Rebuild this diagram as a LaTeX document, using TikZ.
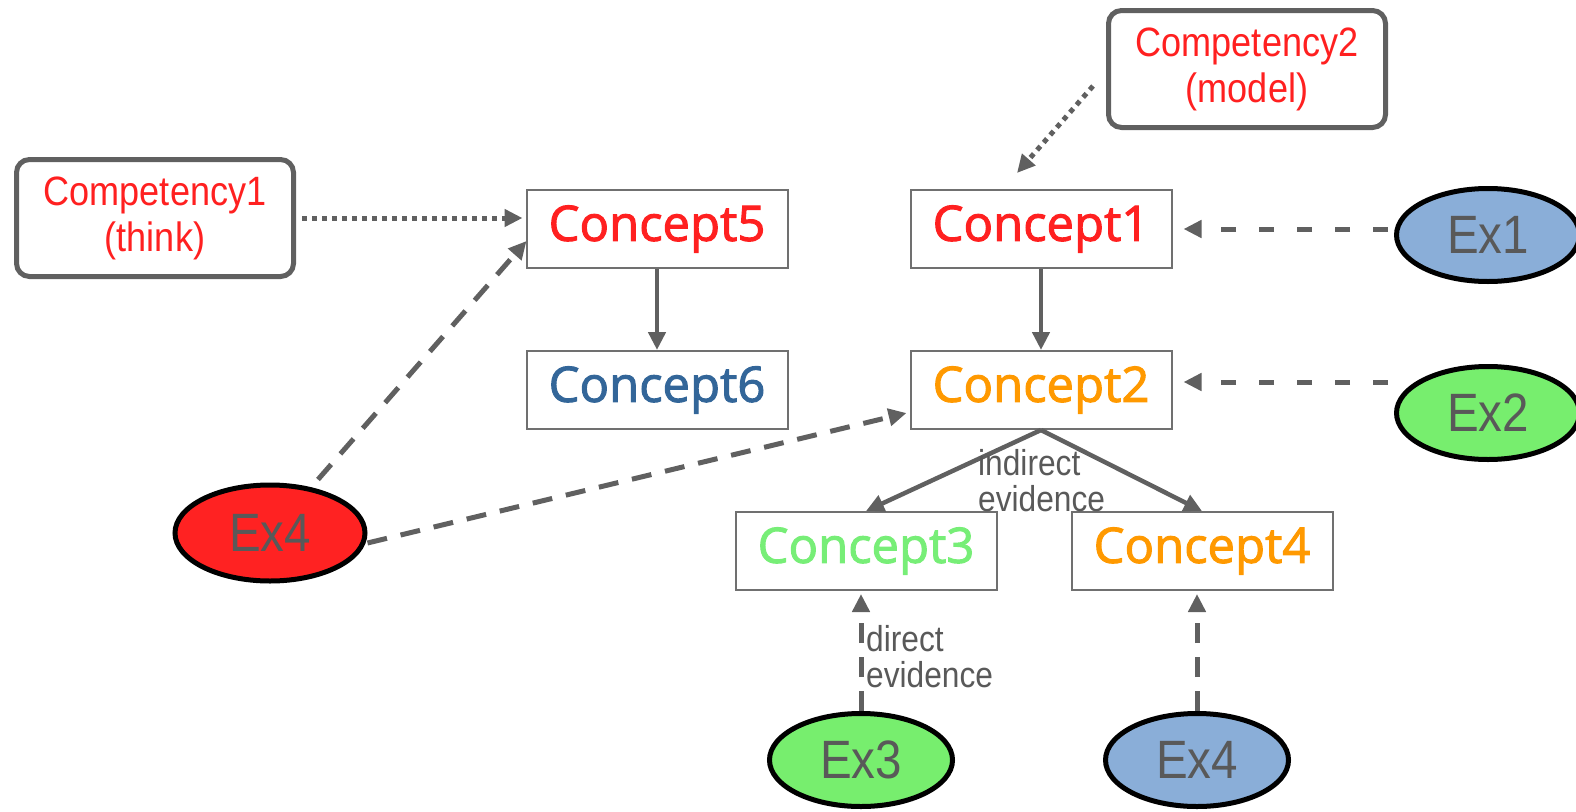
\documentclass[tikz,border=0pt]{standalone}
\usepackage{fontspec}
\newfontfamily\labelfont{Liberation Sans}[FakeStretch=0.88]
\newfontfamily\conceptfont{Open Sans}[FakeBold=2]
\usetikzlibrary{arrows.meta,calc,shapes.geometric}

\definecolor{linegray}{HTML}{606060}
\definecolor{boxgray}{HTML}{707070}
\definecolor{txtgray}{HTML}{595959}
\definecolor{cred}{HTML}{FF2020}
\definecolor{cblue}{HTML}{336699}
\definecolor{corange}{HTML}{FF9900}
\definecolor{cgreen}{HTML}{77EE77}
\definecolor{exblue}{HTML}{8AAED8}
\definecolor{exgreen}{HTML}{77EE6E}
\definecolor{exred}{HTML}{FF2222}

\begin{document}
\begin{tikzpicture}[
  x=1pt, y=-1pt,
  concept/.style={draw=boxgray, line width=2pt, minimum width=261pt, minimum height=78pt, inner sep=0pt, font=\conceptfont\fontsize{49}{55}\selectfont},
  comp/.style={draw=linegray, line width=5pt, rounded corners=13pt, minimum width=277pt, minimum height=117pt, align=center, text=cred, font=\labelfont\fontsize{41}{46}\selectfont},
  exam/.style={ellipse, draw=black, line width=5pt, minimum width=183pt, minimum height=93pt, inner sep=0pt, text=txtgray, font=\labelfont\fontsize{54}{54}\selectfont},
  arr/.style={-{Triangle[length=18pt,width=17pt]}, draw=linegray, line width=4.5pt},
  dasharr/.style={arr, line width=5pt, dash pattern=on 20pt off 14pt},
  sidearr/.style={dasharr, dash pattern=on 15pt off 23pt},
  dotarr/.style={arr, line width=5pt, dash pattern=on 5pt off 5pt},
  note/.style={anchor=north west, inner sep=0pt, align=left, text=txtgray, font=\labelfont\fontsize{36}{36}\selectfont}
]
\useasboundingbox (0,0) rectangle (1576,811);

% Competencies
\node[comp] (comp1) at (155,218) {Competency1\\(think)};
\node[comp] (comp2) at (1247,69) {Competency2\\(model)};

% Concepts
\node[concept, text=cred] (c5) at (657,229) {Concept5};
\node[concept, text=cred] (c1) at (1041,229) {Concept1};
\node[concept, text=cblue] (c6) at (657,390) {Concept6};
\node[concept, text=corange] (c2) at (1041,390) {Concept2};
\node[concept, text=cgreen] (c3) at (866,551) {Concept3};
\node[concept, text=corange] (c4) at (1202,551) {Concept4};

% Exercises
\node[exam, fill=exblue] (ex1) at (1488,235) {Ex1};
\node[exam, fill=exgreen] (ex2) at (1488,413) {Ex2};
\node[exam, fill=exred, minimum width=190pt, minimum height=96pt] (exR) at (270,533) {Ex4};
\node[exam, fill=exgreen] (ex3) at (861,760) {Ex3};
\node[exam, fill=exblue] (ex4) at (1197,760) {Ex4};

% Concept links
\draw[arr] (c5.south) -- (c6.north);
\draw[arr] (c1.south) -- (c2.north);
\draw[arr] (c2.south) -- (c3.north);
\draw[arr] (c2.south) -- (c4.north);

% Competency links
\draw[dotarr, shorten >=3pt] ([xshift=6pt]comp1.east) -- (comp1.east -| c5.west);
\draw[dotarr] ($(comp2.west)+(-13,17)$) -- ($(c1.north)+(-24,-16)$);

% Evidence links
\draw[sidearr] ($(ex1.west)+(-6,-6)$) -- ($(c1.east)+(11,0)$);
\draw[sidearr] ($(ex2.west)+(-6,-31)$) -- ($(c2.east)+(11,-8)$);
\draw[dasharr, shorten >=3pt] (ex3.north) -- (ex3.north |- c3.south);
\draw[dasharr, shorten >=3pt] (ex4.north) -- (ex4.north |- c4.south);
\draw[dasharr] ($(exR.north)+(48,-3)$) -- ($(c5.west)+(1,12)$);
\draw[dasharr] ($(exR.east)+(0,10)$) -- ($(c2.west)+(-3,23)$);

% Labels
\node[note] (indirect) at (978,449) {indirect\\evidence};
\node[note] (direct) at (866,625) {direct\\evidence};

\end{tikzpicture}
\end{document}
